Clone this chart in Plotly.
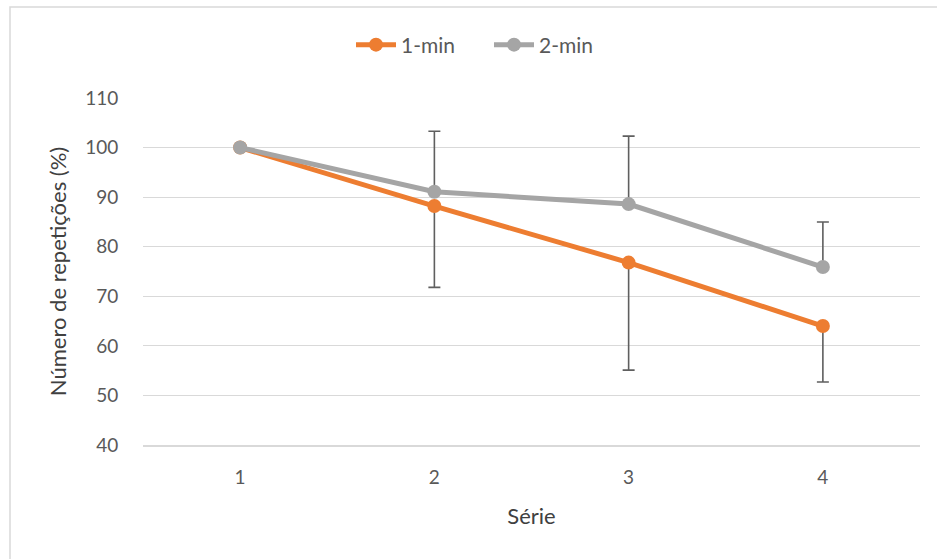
import plotly.graph_objects as go

series_labels = ["1", "2", "3", "4"]
one_min = [100, 88.2, 76.8, 64.0]
two_min = [100, 91.1, 88.6, 75.9]
one_min_err_minus = [0, 16.4, 21.7, 11.3]
two_min_err_plus = [0, 12.2, 13.7, 9.1]
y_ticks = [40, 50, 60, 70, 80, 90, 100, 110]

W, H = 937, 559
L, R, T, B = 143, 17, 98, 114
pw, ph = W - L - R, H - T - B

def px_to_paper_x(px):
    return (px - L) / pw

def px_to_paper_y(py):
    return (H - B - py) / ph

FONT = "Lato, Carlito, 'Open Sans', sans-serif"

fig = go.Figure()
fig.add_trace(go.Scatter(
    x=series_labels, y=one_min, name="1-min", mode="lines+markers",
    line=dict(color="#ED7D31", width=5),
    marker=dict(color="#ED7D31", size=14),
    error_y=dict(type="data", symmetric=False,
                 array=[0, 0, 0, 0], arrayminus=one_min_err_minus,
                 color="#5f5f5f", thickness=1.6, width=6),
))
fig.add_trace(go.Scatter(
    x=series_labels, y=two_min, name="2-min", mode="lines+markers",
    line=dict(color="#A5A5A5", width=5),
    marker=dict(color="#A5A5A5", size=14),
    error_y=dict(type="data", symmetric=False,
                 array=two_min_err_plus, arrayminus=[0, 0, 0, 0],
                 color="#5f5f5f", thickness=1.6, width=6),
))

fig.update_layout(
    width=W, height=H,
    margin=dict(l=L, r=R, t=T, b=B),
    paper_bgcolor="white", plot_bgcolor="white",
    font=dict(family=FONT, color="#595959", size=19),
    legend=dict(orientation="h", x=px_to_paper_x(489), xanchor="center",
                y=px_to_paper_y(45), yanchor="middle",
                entrywidth=83, entrywidthmode="pixels",
                font=dict(size=21, color="#595959"), itemwidth=40),
    xaxis=dict(type="category", range=[-0.5, 3.5], showgrid=False, showline=True,
               linecolor="#d9d9d9", linewidth=1.5,
               ticks="outside", ticklen=14, tickcolor="rgba(0,0,0,0)",
               tickfont=dict(size=19, color="#595959"),
               title=dict(text="Série", font=dict(size=22, color="#404040"), standoff=22)),
    yaxis=dict(range=[40, 110], tickvals=y_ticks, showgrid=True,
               gridcolor="#d9d9d9", gridwidth=1.3, zeroline=False,
               showline=False, ticks="outside", ticklen=20,
               tickcolor="rgba(0,0,0,0)",
               tickfont=dict(size=19, color="#595959"),
               title=dict(text="Número de repetições (%)",
                          font=dict(size=22, color="#404040"), standoff=12)),
    shapes=[dict(type="rect", xref="paper", yref="paper",
                 x0=px_to_paper_x(10), x1=px_to_paper_x(960),
                 y0=px_to_paper_y(600), y1=px_to_paper_y(7),
                 line=dict(color="#d9d9d9", width=1.5), layer="below")],
)

fig.write_html("out.html", config={"displayModeBar": False},
               post_script="document.body.style.margin='0';document.body.style.overflow='hidden';")
